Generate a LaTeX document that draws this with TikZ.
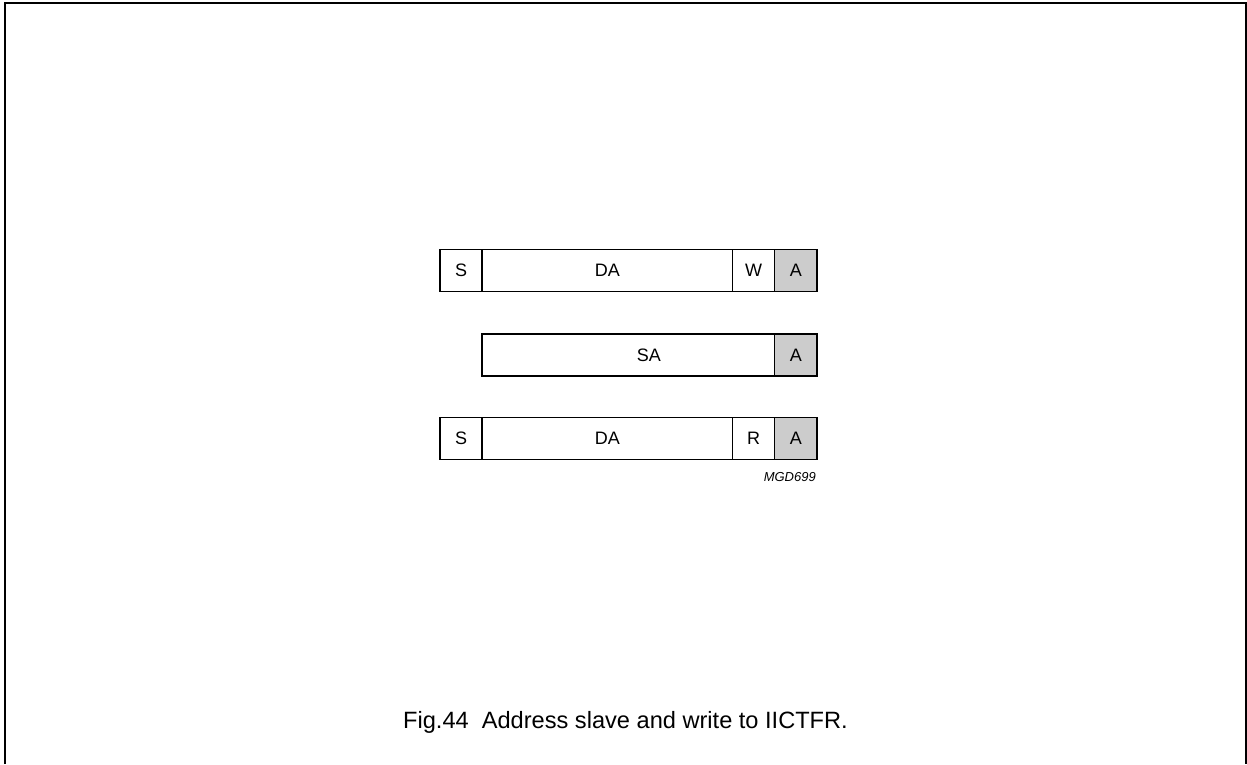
\documentclass[tikz,border=0pt]{standalone}
\usepackage{fontspec}
\setmainfont{Liberation Sans}
\usetikzlibrary{positioning}
\begin{document}
\begin{tikzpicture}[x=1pt,y=-1pt,
      cell/.style={draw,line width=1.3pt,outer sep=0pt,inner sep=0pt,minimum height=42pt,font=\fontsize{18}{21}\selectfont},
      ack/.style={cell,fill=black!20,minimum width=42.5pt}
    ]
      \useasboundingbox (0,0) rectangle (1247,764);
      \draw[line width=2pt] (5,764) -- (5,3) -- (1246,3) -- (1246,764);
      \node[cell,minimum width=42pt,anchor=north west] (s1) at (440,249.5) {S};
      \node[cell,minimum width=250.5pt,right=0pt of s1] (da1) {DA};
      \node[cell,minimum width=42pt,right=0pt of da1] (w1) {W};
      \node[ack,right=0pt of w1] (a1) {A};
      \node[cell,minimum width=292.5pt,below right=42.5pt and 0pt of da1.south west] (sa2) {\hspace*{41pt}SA};
      \node[ack,right=0pt of sa2] (a2) {A};
      \node[cell,minimum width=42pt,anchor=north west] (s3) at (440,417.3) {S};
      \node[cell,minimum width=250.5pt,right=0pt of s3] (da3) {DA};
      \node[cell,minimum width=42pt,right=0pt of da3] (r3) {R};
      \node[ack,right=0pt of r3] (a3) {A};
      \node[font=\fontsize{13}{15}\selectfont\itshape,inner sep=0pt,anchor=base east] (tag) at (816,481) {MGD699};
      \node[font=\fontsize{23.6}{28}\selectfont,anchor=base] (cap) at (625.5,728.3) {Fig.44\ \ Address slave and write to IICTFR.};
    \end{tikzpicture}
\end{document}
